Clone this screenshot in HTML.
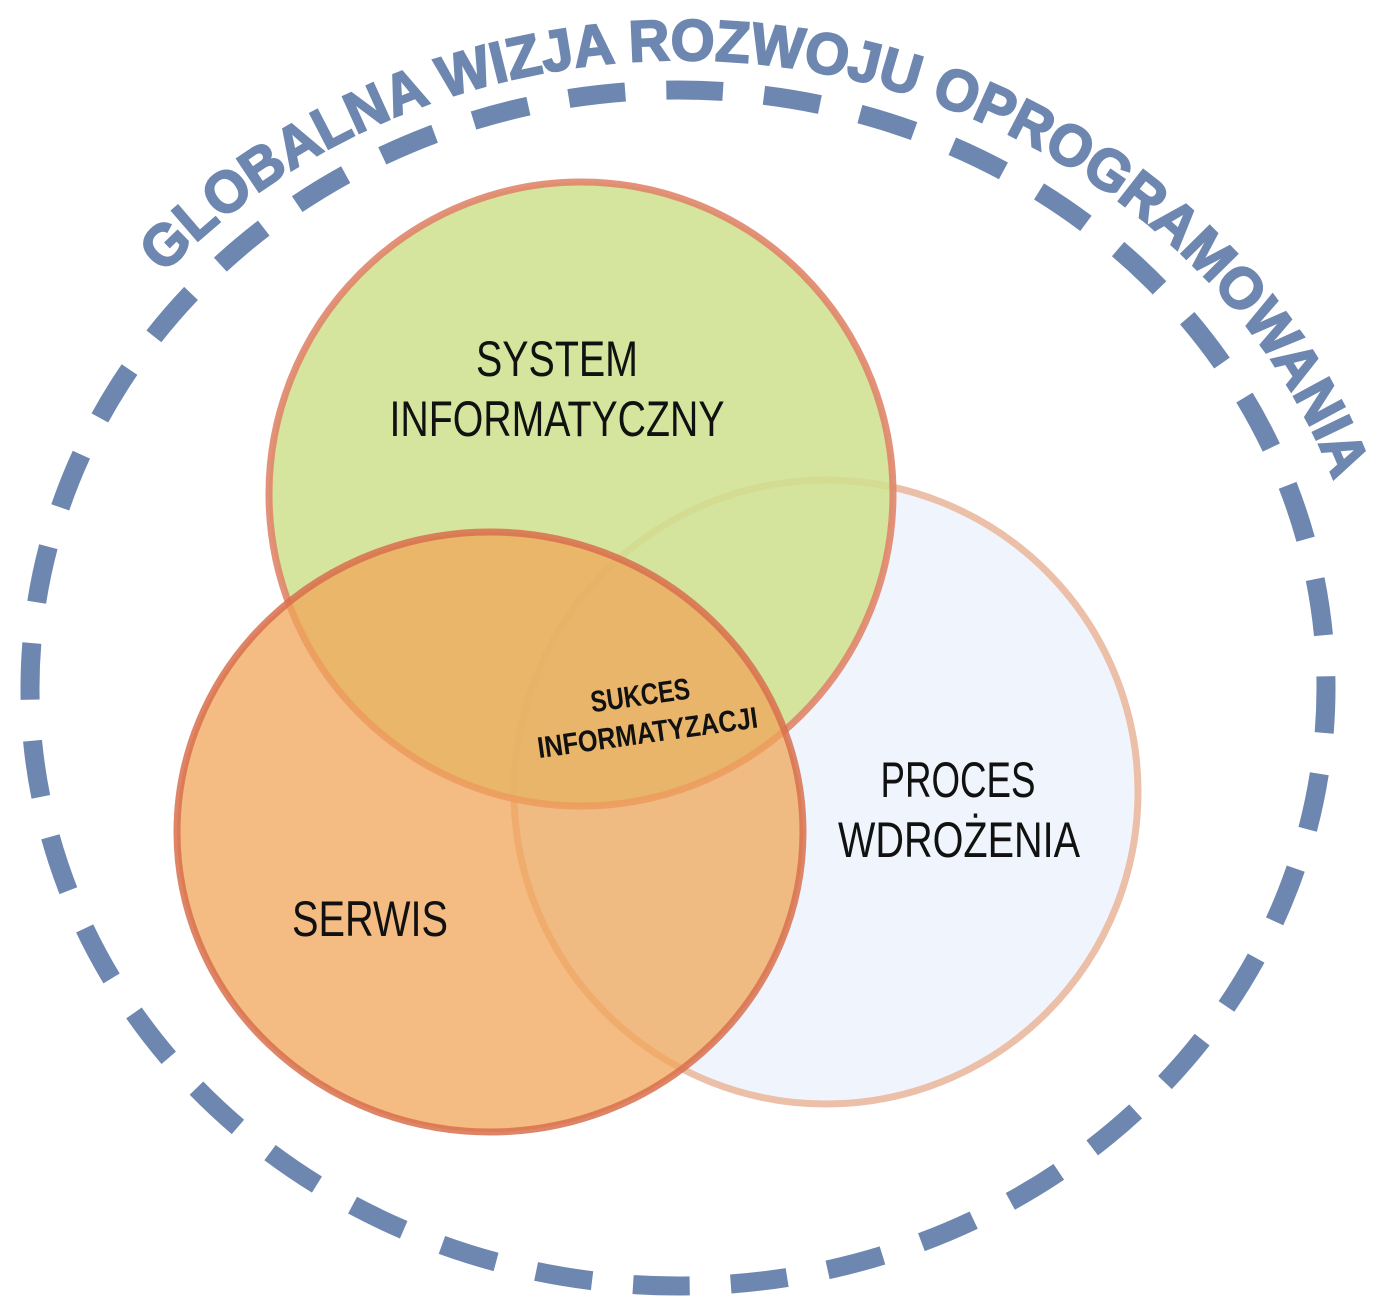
<!DOCTYPE html>
<html><head><meta charset="utf-8"><style>
html,body{margin:0;padding:0;background:#fff;}
svg{display:block;}
</style></head><body>
<svg width="1373" height="1309" viewBox="0 0 1373 1309" xmlns="http://www.w3.org/2000/svg">
<defs>
<path id="arc" d="M 140 300 A 690 628 0 0 1 1358 560"/>
</defs>
<ellipse cx="678" cy="688" rx="648" ry="598" fill="none" stroke="#6d87b0" stroke-width="19" pathLength="100" stroke-dasharray="1.45 1.05" stroke-dashoffset="0.3"/>
<text font-family="Liberation Sans, sans-serif" font-weight="bold" font-size="58" fill="#6d87b0" stroke="#6d87b0" stroke-width="2">
<textPath href="#arc" startOffset="35" textLength="1400" lengthAdjust="spacingAndGlyphs">GLOBALNA WIZJA ROZWOJU OPROGRAMOWANIA</textPath>
</text>
<circle cx="826" cy="792" r="312" fill="#f0f5fd" stroke="#ecbfa9" stroke-width="7"/>
<circle cx="581" cy="494" r="312" fill="#cfe08c" fill-opacity="0.85" stroke="#e0856a" stroke-opacity="0.9" stroke-width="7"/>
<ellipse cx="490" cy="832" rx="313" ry="300" fill="#f0a55a" fill-opacity="0.75" stroke="#d8704e" stroke-opacity="0.85" stroke-width="7"/>
<g font-family="Liberation Sans, sans-serif" font-size="50" fill="#111" text-anchor="middle">
<text x="557" y="376" textLength="162" lengthAdjust="spacingAndGlyphs">SYSTEM</text>
<text x="557" y="436" textLength="335" lengthAdjust="spacingAndGlyphs">INFORMATYCZNY</text>
<text x="958" y="797" textLength="155" lengthAdjust="spacingAndGlyphs">PROCES</text>
<text x="959" y="857" textLength="242" lengthAdjust="spacingAndGlyphs">WDROŻENIA</text>
<text x="370" y="936" textLength="156" lengthAdjust="spacingAndGlyphs">SERWIS</text>
</g>
<g font-family="Liberation Sans, sans-serif" font-weight="bold" font-size="30" fill="#111" text-anchor="middle" transform="rotate(-8 645 715)">
<text x="643" y="705" textLength="100" lengthAdjust="spacingAndGlyphs">SUKCES</text>
<text x="645" y="743" textLength="222" lengthAdjust="spacingAndGlyphs">INFORMATYZACJI</text>
</g>
</svg>
</body></html>
